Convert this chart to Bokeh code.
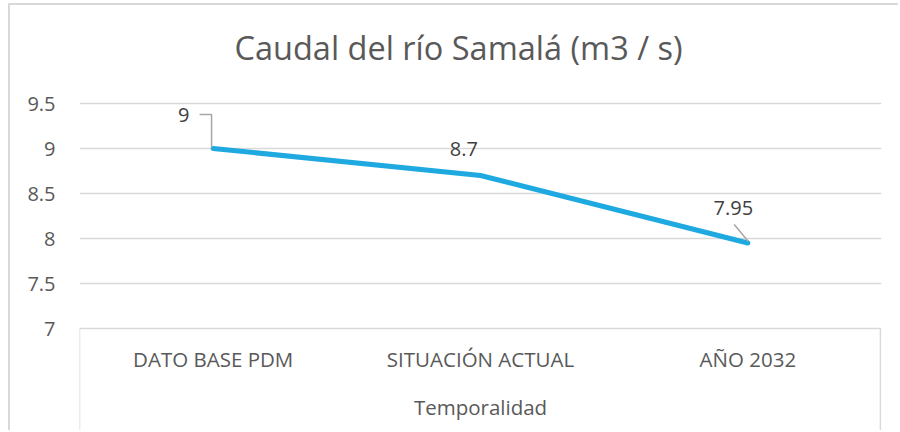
from bokeh.plotting import figure
from bokeh.models import FixedTicker, Label, ColumnDataSource, Range1d
from bokeh.core.properties import value
from bokeh.embed import file_html
from bokeh.resources import INLINE

categories = ["DATO BASE PDM", "SITUACIÓN ACTUAL", "AÑO 2032"]
caudal = [9.0, 8.7, 7.95]
y_ticks = [7, 7.5, 8, 8.5, 9, 9.5]
y_tick_labels = ["7", "7.5", "8", "8.5", "9", "9.5"]
title_text = "Caudal del río Samalá (m3 / s)"
x_title = "Temporalidad"

FONT = "Open Sans"
TXT = "#595959"
GRID = "#D9D9D9"
LINE = "#1FA9E1"

W, H = 890, 427
# vertical scale: 9.5 at y=103px, 0.5 per 45 px ; canvas from y=5 to 432
Y_TOP = 9.5 + 98 / 90
Y_BOT = 9.5 - 329 / 90
xpos = [i + 0.5 for i in range(len(categories))]

p = figure(width=W, height=H, x_range=Range1d(0, 3), y_range=Range1d(Y_BOT, Y_TOP),
           output_backend="svg", toolbar_location=None,
           min_border_left=69, min_border_right=19, min_border_top=0, min_border_bottom=0)
p.styles = {"border-left": "2px solid #D9D9D9", "border-top": "2px solid #D9D9D9",
            "margin-left": "8px", "margin-top": "3px"}
p.outline_line_color = None
p.xaxis.visible = False
p.xgrid.grid_line_color = None

# y axis
p.yaxis.ticker = FixedTicker(ticks=y_ticks)
p.yaxis.major_label_overrides = {t: l for t, l in zip(y_ticks, y_tick_labels)}
p.yaxis.axis_line_color = None
p.yaxis.major_tick_line_color = None
p.yaxis.minor_tick_line_color = None
p.yaxis.major_tick_out = 0
p.yaxis.major_tick_in = 0
p.yaxis.major_label_standoff = 24
p.yaxis.major_label_text_font = FONT
p.yaxis.major_label_text_font_size = "20px"
p.yaxis.major_label_text_color = TXT
p.ygrid.ticker = FixedTicker(ticks=y_ticks)
p.ygrid.grid_line_color = GRID
p.ygrid.grid_line_width = 1.5

# category axis box (drawn in data space below y=7)
y_lo = y_ticks[0]
p.segment(x0=[0.0, 2.996], y0=[y_lo, y_lo], x1=[0.0, 2.996], y1=[Y_BOT, Y_BOT],
          line_color=GRID, line_width=1.5)
p.text(x=xpos, y=[9.5 - 255 / 90] * 3, text=categories, text_font=value(FONT),
       text_font_size="20.5px", text_color=TXT, text_align="center", text_baseline="middle")
p.text(x=[1.5], y=[9.5 - 303 / 90], text=[x_title], text_font=value(FONT),
       text_font_size="20.5px", text_color=TXT, text_align="center", text_baseline="middle")

# series
src = ColumnDataSource(dict(x=xpos, y=caudal))
p.line("x", "y", source=src, line_color=LINE, line_width=5, line_cap="round", line_join="round")

# title
p.add_layout(Label(x=1.418, y=10.12, text=title_text, text_font=FONT, text_font_size="32.5px",
                   text_color=TXT, text_align="center", text_baseline="middle"))

# data labels
lab_pos = [(0.39, 9.367), (1.438, 9.0), (2.446, 8.344)]
for (lx, ly), v in zip(lab_pos, caudal):
    p.add_layout(Label(x=lx, y=ly, text=f"{v:g}", text_font=FONT, text_font_size="20px",
                       text_color="#404040", text_align="center", text_baseline="middle"))

# leader lines
p.line(x=[0.449, 0.494, 0.494], y=[9.378, 9.378, 9.011], line_color="#A6A6A6", line_width=1.5)
p.line(x=[2.449, 2.502], y=[8.156, 7.967], line_color="#A6A6A6", line_width=1.5)

open("out.html", "w").write(file_html(p, INLINE))
